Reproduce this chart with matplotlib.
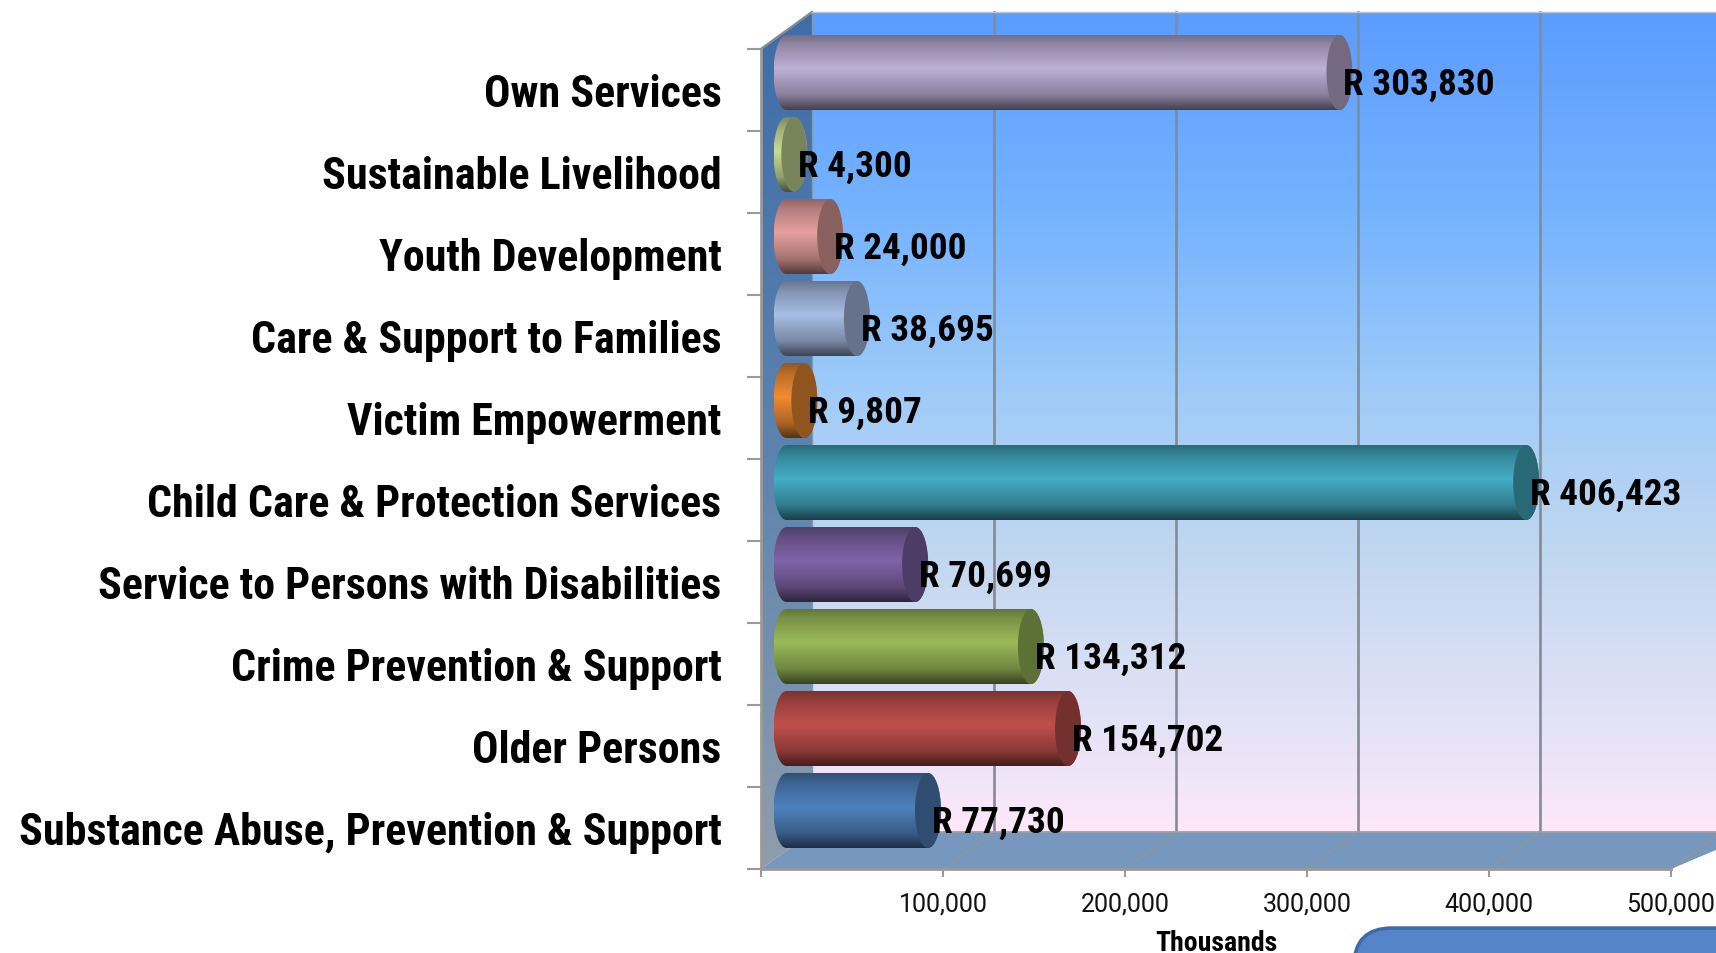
import numpy as np
import matplotlib
matplotlib.use("Agg")
import matplotlib.pyplot as plt
from matplotlib import font_manager
from matplotlib.colors import LinearSegmentedColormap, to_rgb
from matplotlib.patches import Ellipse, FancyBboxPatch, PathPatch, Polygon
from matplotlib.path import Path

categories = ["Substance Abuse, Prevention & Support", "Older Persons", "Crime Prevention & Support",
              "Service to Persons with Disabilities", "Child Care & Protection Services", "Victim Empowerment",
              "Care & Support to Families", "Youth Development", "Sustainable Livelihood", "Own Services"]
values = [77730, 154702, 134312, 70699, 406423, 9807, 38695, 24000, 4300, 303830]
bar_colors = ["#4F81BD", "#C0504D", "#9BBB59", "#8064A8", "#45ADC6",
              "#F08C32", "#A8BEE6", "#E6A09E", "#C8DC96", "#BFB0D8"]
x_ticks = [0, 100000, 200000, 300000, 400000, 500000]

W, H = 1716, 954
AX_L, AX_R, AX_T, AX_B = 761, 1671, 50, 870
PX_X = 500000 / (AX_R - AX_L)
PX_Y = 10 / (AX_B - AX_T)
DX = 51 * PX_X
DY = 37 * PX_Y
CAP_W = 13 * PX_X
CAP_H = 37.5 * PX_Y
BAR_SHIFT = 1 * PX_Y
GRID = "#858B94"

names = {f.name for f in font_manager.fontManager.ttflist}
narrow = next((n for n in ["Liberation Sans Narrow", "Roboto Condensed", "Open Sans Condensed"] if n in names), "Roboto")

fig = plt.figure(figsize=(W / 100, H / 100), dpi=100)
ax = fig.add_axes([AX_L / W, 1 - AX_B / H, (AX_R - AX_L) / W, (AX_B - AX_T) / H])
ax.patch.set_visible(False)


def gradient(stops, extent, clip, zorder):
    cmap = LinearSegmentedColormap.from_list("g", stops)
    im = ax.imshow(np.linspace(0, 1, 256).reshape(-1, 1), cmap=cmap, extent=extent, aspect="auto",
                   origin="upper", zorder=zorder, interpolation="bilinear")
    im.set_clip_box(fig.bbox)
    im.set_clip_path(clip)
    return im


def shade(color, factor):
    return tuple(min(1, c * factor) for c in to_rgb(color))


# back wall
wall = Polygon([(DX, DY), (DX, 10 + DY), (520000 + DX, 10 + DY), (520000 + DX, DY)], fc="none", ec="none", clip_on=False)
ax.add_patch(wall)
gradient([(0, "#5B9CFF"), (0.25, "#76B4FE"), (0.47, "#A0CCF8"), (0.68, "#C4D8F0"), (0.86, "#E2E2F6"), (1, "#FDE8FA")],
         (DX, 520000 + DX, DY, 10 + DY), wall, 1)

# left wall
side = Polygon([(0, 0), (0, 10), (DX, 10 + DY), (DX, DY)], fc="none", ec="none", clip_on=False)
ax.add_patch(side)
gradient([(0, "#3F6DA8"), (0.5, "#5C82AE"), (1, "#8F9DAC")], (0, DX, 0, 10 + DY), side, 1)

# floor
ax.add_patch(Polygon([(0, 0), (DX, DY), (520000 + DX, DY), (500000, 0)], fc="#7698BF", ec="none", clip_on=False, zorder=1.5))

# gridlines
for t in x_ticks[1:]:
    ax.plot([t + DX, t + DX], [DY, 10 + DY], color=GRID, lw=1.9, clip_on=False, zorder=2)
    ax.plot([t, t + DX], [0, DY], color="#8B96A3", lw=1.3, clip_on=False, zorder=2)
ax.plot([0, DX], [10, 10 + DY], color=GRID, lw=1.7, clip_on=False, zorder=2)
ax.plot([DX, DX], [DY, 10 + DY], color="#7F9AB8", lw=1, clip_on=False, zorder=2)
ax.plot([DX, 520000 + DX], [DY, DY], color="#9AA0A8", lw=1.3, clip_on=False, zorder=2)
ax.plot([DX, 520000 + DX], [10 + DY, 10 + DY], color="#B8C4D0", lw=1, clip_on=False, zorder=2)

# cylinders
for i, (val, col) in enumerate(zip(values, bar_colors)):
    x0 = DX / 2
    x1 = x0 + val
    yc = i + 0.5 + DY / 2 - BAR_SHIFT
    a = np.linspace(np.pi / 2, 3 * np.pi / 2, 40)
    b = np.linspace(-np.pi / 2, np.pi / 2, 40)
    left = np.column_stack([x0 + CAP_W * np.cos(a), yc + CAP_H * np.sin(a)])
    right = np.column_stack([x1 + CAP_W * np.cos(b), yc + CAP_H * np.sin(b)])
    outline = np.vstack([left, right, left[:1]])
    body = PathPatch(Path(outline), fc="none", ec="none", clip_on=False)
    ax.add_patch(body)
    stops = [(0, shade(col, 0.62)), (0.14, shade(col, 0.78)), (0.45, shade(col, 1.0)),
             (0.8, shade(col, 0.72)), (1, shade(col, 0.36))]
    gradient(stops, (x0 - CAP_W, x1 + CAP_W, yc - CAP_H, yc + CAP_H), body, 3 + i * 0.01)
    ax.add_patch(Ellipse((x1, yc), 2 * CAP_W, 2 * CAP_H, fc=shade(col, 0.6), ec="none", clip_on=False, zorder=3.5 + i * 0.01))

# value labels
for i, val in enumerate(values):
    ax.text(val + DX / 2 + 4 * PX_X, i + 0.5 + DY / 2 - 12 * PX_Y, f"R {val:,}", ha="left", va="center",
            fontsize=26.8, fontweight="bold", family=narrow, color="black", clip_on=False, zorder=6)

# axes, ticks, labels
ax.set_xlim(0, 500000)
ax.set_ylim(0, 10)
for s in ["top", "right"]:
    ax.spines[s].set_visible(False)
for s in ["left", "bottom"]:
    ax.spines[s].set_color("#9A9A9A")
    ax.spines[s].set_linewidth(2)
    ax.spines[s].set_zorder(2.5)
ax.set_xticks(x_ticks[1:], [f"{t:,}" for t in x_ticks[1:]])
ax.set_xticks([0], minor=True)
ax.tick_params(axis="x", which="both", length=6, width=1.5, color="#9A9A9A", labelsize=18, pad=10, labelcolor="#111111")
ax.set_yticks(np.arange(10) + 0.5, categories)
ax.set_yticks(np.arange(11), minor=True)
ax.tick_params(axis="y", which="major", length=0, pad=28.5, labelsize=31.7)
ax.tick_params(axis="y", which="minor", length=10, width=1.5, color="#9A9A9A")
for lab in ax.get_yticklabels():
    lab.set_fontweight("bold")
    lab.set_family(narrow)
for lab in ax.get_xticklabels():
    lab.set_family("Roboto")
ax.set_xlabel("Thousands", fontsize=20, fontweight="bold", family=narrow, labelpad=10)

# corner of the blue box under the chart
fig.add_artist(FancyBboxPatch((1368, -60), 420, 71, boxstyle="round,pad=14,rounding_size=38", fc="#5585C8", ec="#3E6BA5",
                              lw=2.5, transform=None, zorder=5))

fig.savefig("out.png", dpi=100)
